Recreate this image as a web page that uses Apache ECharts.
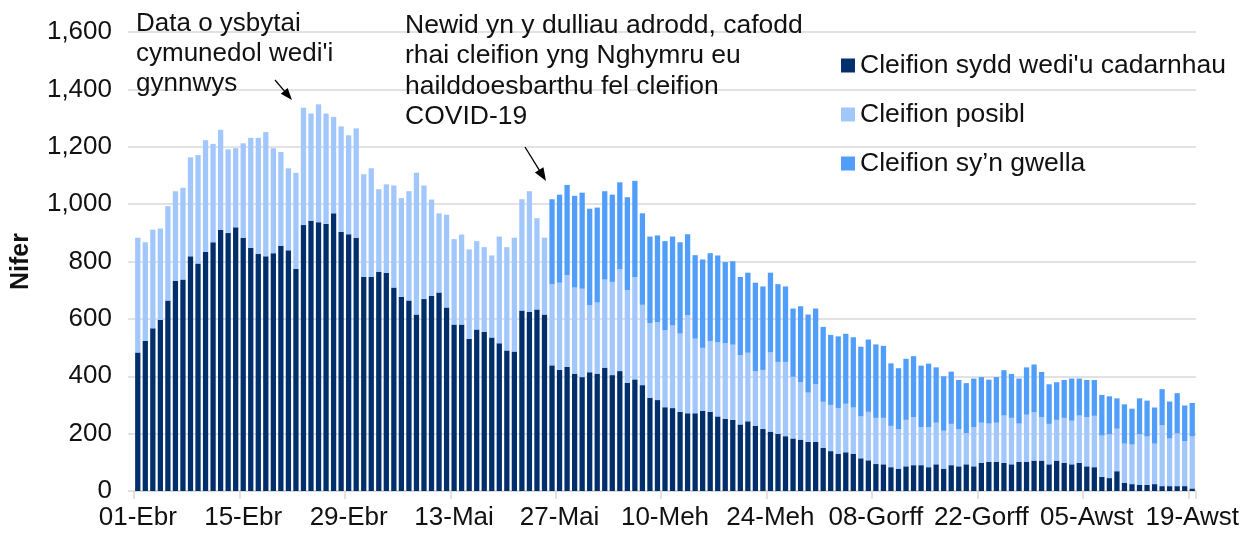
<!DOCTYPE html>
<html>
<head>
<meta charset="utf-8">
<script src="https://cdn.jsdelivr.net/npm/echarts@6/dist/echarts.min.js"></script>
<style>
html,body{margin:0;padding:0;background:#fff;}
#chart{width:1252px;height:536px;}
</style>
</head>
<body>
<div id="chart"></div>
<script>
// Month names (Welsh) and number of days shown in each month
const monthNames = ['Ebr', 'Mai', 'Meh', 'Gorff', 'Awst'];
const monthDays = [30, 31, 30, 31, 19];

const seriesNames = ["Cleifion sydd wedi'u cadarnhau", 'Cleifion posibl', 'Cleifion sy\u2019n gwella'];

// Confirmed patients (01-Ebr .. 19-Awst)
const confirmed = [
  483,523,567,596,664,733,737,818,793,834,867,911,899,919,883,847,826,818,829,855,
  839,775,927,942,937,931,968,904,895,883,746,746,764,761,709,677,664,615,669,680,
  692,640,580,580,531,563,555,535,515,490,486,629,624,633,615,438,422,433,409,397,
  414,409,430,404,418,377,389,369,325,317,292,289,276,271,271,280,276,260,252,248,
  232,243,227,216,207,199,191,183,179,171,171,151,139,130,135,130,114,107,94,93,
  83,78,86,90,90,83,93,78,90,86,93,86,98,101,101,98,93,101,101,106,
  106,93,106,98,93,98,86,83,49,45,69,29,24,21,21,24,17,17,17,17,9
];
// Possible (suspected) patients
const possible = [
  400,344,344,319,329,312,320,345,378,389,343,348,292,276,329,384,405,433,366,327,
  286,334,409,374,411,385,336,367,345,381,358,379,288,308,356,344,381,494,396,336,
  276,323,298,314,311,308,295,286,372,360,397,388,421,318,268,283,304,320,300,308,
  234,248,307,325,356,323,357,280,260,271,268,288,273,342,260,219,247,258,263,262,
  242,239,191,206,276,251,259,215,200,172,201,160,161,159,169,161,146,169,161,162,
  144,137,162,168,133,140,145,132,144,129,109,137,140,134,137,165,162,134,165,168,
  151,141,142,157,152,165,172,179,144,153,148,136,138,177,169,141,213,166,184,157,181
];
// Recovering patients (reported from 26-Mai onwards)
const recovering = [
  null,null,null,null,null,null,null,null,null,null,null,null,null,null,null,null,null,null,null,null,
  null,null,null,null,null,null,null,null,null,null,null,null,null,null,null,null,null,null,null,null,
  null,null,null,null,null,null,null,null,null,null,null,null,null,null,null,296,307,314,320,335,
  336,331,308,304,302,324,335,319,302,303,311,310,318,282,291,308,306,303,283,291,
  272,279,308,291,278,271,263,238,265,272,264,261,244,250,244,245,243,252,256,251,
  218,213,213,212,214,221,193,190,182,172,174,169,159,153,159,158,153,157,165,167,
  158,138,131,132,147,129,129,125,142,132,106,137,125,125,125,126,125,129,140,124,117
];

// Category labels built from the month names
const categories = [];
monthNames.forEach((m, i) => {
  for (let d = 1; d <= monthDays[i]; d++) {
    categories.push((d < 10 ? '0' : '') + d + '-' + m);
  }
});

const colors = ['#002F6C', '#A2C7FC', '#519DFA'];
const FONT = "'Liberation Sans', Arial, sans-serif";
const TXT = '#111';

const chart = echarts.init(document.getElementById('chart'), null, {renderer: 'canvas'});

function arrow(x1, y1, x2, y2, headLen, headW) {
  const dx = x2 - x1, dy = y2 - y1;
  const L = Math.sqrt(dx * dx + dy * dy);
  const ux = dx / L, uy = dy / L;
  const bx = x2 - ux * headLen, by = y2 - uy * headLen;
  const px = -uy * headW / 2, py = ux * headW / 2;
  return [
    {type: 'line', shape: {x1: x1, y1: y1, x2: bx + ux * 2, y2: by + uy * 2},
     style: {stroke: '#000', lineWidth: 1.3}, z: 100},
    {type: 'polygon', shape: {points: [[x2, y2], [bx + px, by + py], [bx - px, by - py]]},
     style: {fill: '#000'}, z: 100}
  ];
}

const option = {
  animation: false,
  color: colors,
  textStyle: {fontFamily: FONT},
  grid: {left: 134, right: 56, top: 32, bottom: 45, containLabel: false},
  legend: {
    orient: 'vertical',
    left: 836,
    top: 47,
    itemWidth: 14,
    itemHeight: 14,
    itemGap: 22,
    icon: 'rect',
    textStyle: {fontSize: 26.5, color: TXT, fontFamily: FONT},
    data: seriesNames
  },
  xAxis: {
    type: 'category',
    data: categories,
    boundaryGap: true,
    axisLine: {lineStyle: {color: '#d9d9d9', width: 1.5}},
    axisTick: {show: true, interval: 13, length: 8, lineStyle: {color: '#d9d9d9', width: 1.5}},
    axisLabel: {interval: 13, fontSize: 26, color: TXT, margin: 14, fontFamily: FONT, hideOverlap: false}
  },
  yAxis: {
    type: 'value',
    min: 0,
    max: 1600,
    interval: 200,
    name: 'Nifer',
    nameLocation: 'middle',
    nameRotate: 90,
    nameGap: 100,
    nameTextStyle: {fontSize: 25, fontWeight: 'bold', color: TXT, fontFamily: FONT},
    axisLine: {show: false},
    axisTick: {show: true, length: 6, lineStyle: {color: '#d9d9d9', width: 1.5}},
    splitLine: {lineStyle: {color: '#d9d9d9', width: 1.5}},
    axisLabel: {
      fontSize: 26, color: TXT, margin: 22, fontFamily: FONT,
      formatter: v => v.toLocaleString('en-US')
    }
  },
  series: [
    {name: seriesNames[0], type: 'bar', stack: 'total', data: confirmed, barCategoryGap: '30%',
     itemStyle: {color: colors[0]}},
    {name: seriesNames[1], type: 'bar', stack: 'total', data: possible, barCategoryGap: '30%',
     itemStyle: {color: colors[1]}},
    {name: seriesNames[2], type: 'bar', stack: 'total', data: recovering, barCategoryGap: '30%',
     itemStyle: {color: colors[2]}}
  ],
  graphic: [
    {type: 'text', left: 136, top: 9, z: 100,
     style: {text: "Data o ysbytai\ncymunedol wedi'i\ngynnwys", font: '26px ' + FONT, fill: TXT, lineHeight: 30}},
    {type: 'text', left: 405, top: 10, z: 100,
     style: {text: 'Newid yn y dulliau adrodd, cafodd\nrhai cleifion yng Nghymru eu\nhailddoesbarthu fel cleifion\nCOVID-19', font: '26.5px ' + FONT, fill: TXT, lineHeight: 30.5}}
  ].concat(arrow(275, 80, 292, 100, 12, 9)).concat(arrow(525, 147, 546, 181, 13, 10))
};

chart.setOption(option);
</script>
</body>
</html>
